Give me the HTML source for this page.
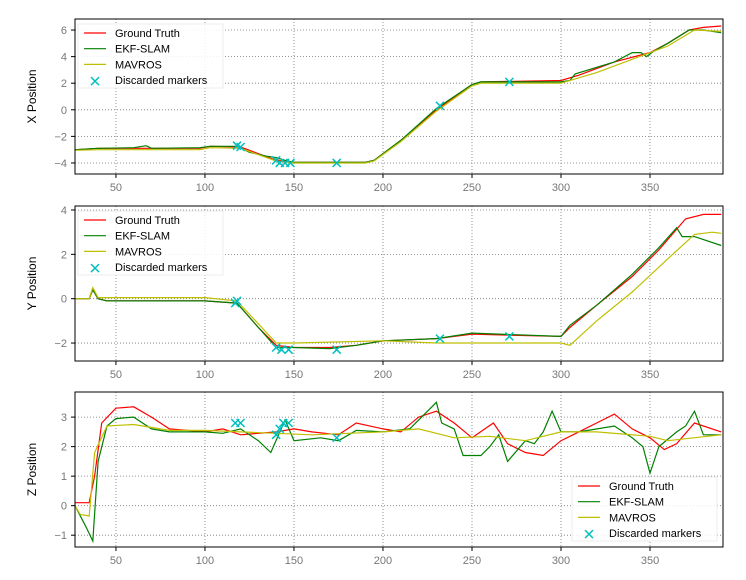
<!DOCTYPE html>
<html><head><meta charset="utf-8"><style>
body{margin:0;background:#fff;}
svg{display:block;font-family:"Liberation Sans","DejaVu Sans",sans-serif;}
</style></head><body>
<svg id="c" width="746" height="580"></svg>
<script>
const xTicks=[50,100,150,200,250,300,350];
const xDomain=[27,391];
// Plot 1: X position
const xTicksY1=[6,4,2,0,-2,-4];
const gtT1=[27,40,97,103,120,138,145,150,190,195,210,230,250,255,300,310,330,350,360,372,380,390];
const gtV1=[-3,-2.9,-2.9,-2.75,-2.8,-3.7,-3.9,-3.95,-3.95,-3.8,-2.3,0,1.9,2.1,2.2,2.6,3.6,4.3,5.0,6.0,6.2,6.3];
const ekT1=[27,40,60,67,70,97,103,118,125,135,140,145,150,170,190,195,210,230,250,255,300,305,308,330,340,345,348,352,360,372,380,390];
const ekV1=[-3,-2.9,-2.85,-2.7,-2.9,-2.85,-2.75,-2.75,-3.2,-3.5,-3.6,-3.8,-3.95,-3.95,-3.95,-3.8,-2.3,0.1,1.9,2.1,2.1,2.2,2.7,3.6,4.3,4.3,4.0,4.4,5.0,6.0,6.0,5.8];
const mvT1=[27,40,97,103,120,140,150,190,195,210,230,250,255,300,320,340,360,375,390];
const mvV1=[-3.05,-3.0,-3.0,-2.85,-2.9,-3.85,-4.0,-4.0,-3.85,-2.4,-0.1,1.8,2.0,2.0,2.8,3.8,4.8,6.0,5.9];
const mkT1=[118,120,140,142,145,148,174,232,271];
const mkV1=[-2.7,-2.8,-3.8,-4.0,-4.0,-4.0,-4.0,0.3,2.1];
// Plot 2: Y position
const yTicksY2=[4,2,0,-2];
const gtT2=[27,35,37,40,45,100,118,130,140,150,170,185,200,230,250,300,305,320,340,355,370,380,390];
const gtV2=[0,0,0.4,0,-0.1,-0.1,-0.2,-1.3,-2.1,-2.2,-2.2,-2.1,-1.9,-1.8,-1.6,-1.7,-1.3,-0.3,1.0,2.2,3.6,3.8,3.8];
const ekT2=[27,35,37,40,45,100,118,130,140,150,170,185,200,230,250,300,305,320,340,355,365,368,375,390];
const ekV2=[0,0,0.4,0,-0.1,-0.1,-0.2,-1.3,-2.2,-2.2,-2.25,-2.1,-1.9,-1.8,-1.55,-1.7,-1.2,-0.3,1.1,2.3,3.2,2.8,2.8,2.4];
const mvT2=[27,35,37,40,100,118,140,150,200,230,300,305,320,340,360,375,385,390];
const mvV2=[0,0,0.5,0.05,0.05,-0.1,-2.0,-2.0,-1.9,-2.0,-2.0,-2.1,-1.0,0.3,1.8,2.9,3.0,2.95];
const mkT2=[117,118,140,143,147,174,232,271];
const mkV2=[-0.2,-0.1,-2.2,-2.3,-2.3,-2.3,-1.8,-1.7];
// Plot 3: Z position
const zTicksY3=[3,2,1,0,-1];
const gtT3=[27,35,38,42,50,60,70,80,100,110,120,140,150,160,175,185,200,210,220,230,240,250,262,270,280,290,300,310,320,330,340,350,358,365,375,390];
const gtV3=[0.1,0.1,1.0,2.8,3.3,3.35,3.0,2.6,2.5,2.6,2.4,2.5,2.6,2.5,2.4,2.8,2.6,2.5,3.0,3.2,2.8,2.3,2.8,2.1,1.8,1.7,2.2,2.5,2.8,3.1,2.6,2.3,1.9,2.1,2.8,2.5];
const ekT3=[27,33,37,40,45,50,60,70,80,100,110,120,130,137,145,150,165,175,185,200,215,230,233,240,245,255,260,265,270,280,285,290,295,300,310,330,340,346,350,355,365,370,375,380,390];
const ekV3=[0,-0.7,-1.2,1.5,2.7,2.95,3.0,2.6,2.5,2.5,2.45,2.6,2.2,1.8,2.9,2.2,2.3,2.2,2.55,2.5,2.6,3.5,2.8,2.6,1.7,1.7,2.0,2.4,1.5,2.2,2.1,2.5,3.2,2.5,2.5,2.7,2.3,2.0,1.1,2.0,2.5,2.7,3.2,2.4,2.4];
const mvT3=[27,30,35,38,45,60,80,100,120,160,200,220,240,260,280,300,320,350,360,390];
const mvV3=[0,-0.3,-0.35,1.8,2.7,2.75,2.55,2.55,2.5,2.4,2.5,2.6,2.3,2.35,2.2,2.5,2.5,2.35,2.2,2.4];
const mkT3=[117,120,140,142,144,147,174];
const mkV3=[2.8,2.8,2.4,2.6,2.8,2.8,2.3];

const NS="http://www.w3.org/2000/svg";
const svg=document.getElementById('c');
function mk(tag,attrs,parent){const e=document.createElementNS(NS,tag);for(const k in attrs)e.setAttribute(k,attrs[k]);(parent||svg).appendChild(e);return e;}
const L=75,R=723;
function sx(t){return L+(t-xDomain[0])/(xDomain[1]-xDomain[0])*(R-L);}

const panels=[
 {top:19,bot:174,dom:[-4.83,6.83],yt:xTicksY1,label:"X Position",name:"x",
  s:[[gtT1,gtV1],[ekT1,ekV1],[mvT1,mvV1]],mk:[mkT1,mkV1],leg:{x:78,y:24}},
 {top:206,bot:361,dom:[-2.81,4.18],yt:yTicksY2,label:"Y Position",name:"y",
  s:[[gtT2,gtV2],[ekT2,ekV2],[mvT2,mvV2]],mk:[mkT2,mkV2],leg:{x:78,y:211}},
 {top:392,bot:547,dom:[-1.4,3.85],yt:zTicksY3,label:"Z Position",name:"z",
  s:[[gtT3,gtV3],[ekT3,ekV3],[mvT3,mvV3]],mk:[mkT3,mkV3],leg:{x:572,y:477}}
];
const cols=["#ff0000","#008000","#bfbf00"];
const names=["Ground Truth","EKF-SLAM","MAVROS"];
panels.forEach(p=>{
 const g=mk('g',{});
 
 
 const sy=v=>p.bot-(v-p.dom[0])/(p.dom[1]-p.dom[0])*(p.bot-p.top);
 mk('rect',{x:L,y:p.top,width:R-L,height:p.bot-p.top,fill:'#fff'},g);
 xTicks.forEach(t=>{
  const x=sx(t);
  const gl=mk('line',{x1:x,x2:x,y1:p.top,y2:p.bot,stroke:'#777','stroke-dasharray':'1,2','stroke-width':0.8},g);
  
  mk('line',{x1:x,x2:x,y1:p.bot,y2:p.bot+4,stroke:'#000'},g);
  const tx=mk('text',{x:x,y:p.bot+17,'text-anchor':'middle','font-size':11,fill:'#777'},g);
  tx.textContent=t;
  
 });
 p.yt.forEach(v=>{
  const y=sy(v);
  mk('line',{x1:L,x2:R,y1:y,y2:y,stroke:'#777','stroke-dasharray':'1,2','stroke-width':0.8},g);
  mk('line',{x1:L-4,x2:L,y1:y,y2:y,stroke:'#000'},g);
  const tx=mk('text',{x:L-8,y:y+4,'text-anchor':'end','font-size':11,fill:'#777'},g);
  tx.textContent=(v<0?'\u2212'+(-v):v);
  
 });
 const clip=mk('clipPath',{id:'cl'+p.name},g);
 mk('rect',{x:L,y:p.top,width:R-L,height:p.bot-p.top},clip);
 const sg=mk('g',{'clip-path':'url(#cl'+p.name+')'},g);
 p.s.forEach((s,i)=>{
  const d=s[0].map((t,j)=>(j?'L':'M')+sx(t).toFixed(1)+','+sy(s[1][j]).toFixed(1)).join('');
  const pa=mk('path',{d:d,fill:'none',stroke:cols[i],'stroke-width':1.2},sg);
  
  
 });
 p.mk[0].forEach((t,j)=>{
  const x=sx(t),y=sy(p.mk[1][j]);
  const m=mk('path',{d:`M${x-4},${y-4}L${x+4},${y+4}M${x-4},${y+4}L${x+4},${y-4}`,stroke:'#00bfbf','stroke-width':1.5},sg);
  
  
 });
 mk('rect',{x:L,y:p.top,width:R-L,height:p.bot-p.top,fill:'none',stroke:'#000','stroke-width':1},g);
 const yl=mk('text',{x:0,y:0,transform:`translate(36,${(p.top+p.bot)/2}) rotate(-90)`,'text-anchor':'middle','font-size':12,fill:'#000'},g);
 yl.textContent=p.label;
 
 const lg=mk('g',{},g);
 
 mk('rect',{x:p.leg.x,y:p.leg.y,width:145,height:64,fill:'#fff','fill-opacity':0.85,stroke:'#eee'},lg);
 const labs=names.concat(["Discarded markers"]);
 labs.forEach((n,i)=>{
  const y=p.leg.y+9+i*15.7;
  if(i<3) mk('line',{x1:p.leg.x+6,x2:p.leg.x+28,y1:y,y2:y,stroke:cols[i],'stroke-width':1.2},lg);
  else{const cx=p.leg.x+17;mk('path',{d:`M${cx-4},${y-3}L${cx+4},${y+5}M${cx-4},${y+5}L${cx+4},${y-3}`,stroke:'#00bfbf','stroke-width':1.5},lg);}
  const tx=mk('text',{x:p.leg.x+37,y:y+4,'font-size':11,fill:'#000'},lg);
  tx.textContent=n;
  
 });
});
</script>
</body></html>
